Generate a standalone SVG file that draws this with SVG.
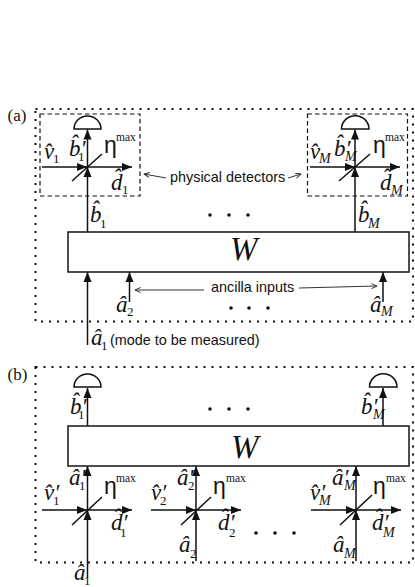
<svg xmlns="http://www.w3.org/2000/svg" width="415" height="587" viewBox="0 0 415 587">
<style>
text{fill:#111}
.m{font:italic 23px "Liberation Serif",serif}
.s{font:13px "Liberation Serif",serif}
.si{font:italic 14px "Liberation Serif",serif}
.e{font:23px "Liberation Sans",sans-serif}
.x{font:11.500px "Liberation Serif",serif}
.l{font:17px "Liberation Serif",serif}
.t{font:14.400px "Liberation Sans",sans-serif}
.w{font:italic 33px "Liberation Serif",serif}
.dot{fill:none;stroke:#111;stroke-width:2;stroke-dasharray:2 6}
.dash{fill:none;stroke:#111;stroke-width:1.200;stroke-dasharray:4.500 3}
.box{fill:#fff;stroke:#222;stroke-width:1.600}
.det{fill:#fff;stroke:#111;stroke-width:1.500}
.c{stroke:#111;stroke-width:1.500;fill:none}
.a{stroke:#111;stroke-width:1.500;fill:none;marker-end:url(#h)}
.n{stroke:#333;stroke-width:1;fill:none;marker-end:url(#o)}
</style>
<defs>
<marker id="h" markerUnits="userSpaceOnUse" markerWidth="10" markerHeight="10" refX="10" refY="5" orient="auto"><path d="M0 1L10 5L0 9z" fill="#111"/></marker>
<marker id="o" markerUnits="userSpaceOnUse" markerWidth="7" markerHeight="6" refX="6.500" refY="3" orient="auto"><path d="M1 .5L6.500 3L1 5.500" fill="none" stroke="#333"/></marker>
</defs>
<g id="frames">
<rect class="dot" x="35.500" y="109" width="377.500" height="212.500"/>
<rect class="dot" x="35.500" y="367" width="377.500" height="195.500"/>
<text class="l" x="7.500" y="121">(a)</text>
<text class="l" x="7.500" y="380">(b)</text>
</g>
<g id="connectors">
<path class="a" d="M87.500 232V167"/><path class="a" d="M87.500 167V129.500"/>
<path class="a" d="M42 167H87"/><path class="a" d="M87 167H132"/><path class="c" d="M72 181L102 154"/>
<path class="a" d="M355 232V167"/><path class="a" d="M355 167V129.500"/>
<path class="a" d="M310 167H355"/><path class="a" d="M355 167H400"/><path class="c" d="M339 181L370 154"/>
<path class="a" d="M87.500 345V272"/><path class="a" d="M129.500 302V272"/><path class="a" d="M383 302V272"/>
<path class="n" d="M166 178L144 174"/><path class="n" d="M288 178L301 174"/>
<path class="n" d="M204 290L135 290"/><path class="n" d="M299 288L377 286"/>
<path class="a" d="M87.500 426V388"/><path class="a" d="M383 426V388"/>
<path class="a" d="M87.500 578V510"/><path class="a" d="M87.500 510V466"/>
<path class="a" d="M42 510H87"/><path class="a" d="M87 510H132"/><path class="c" d="M72 525L102 497"/>
<path class="a" d="M196 561V510"/><path class="a" d="M196 510V466"/>
<path class="a" d="M151 510H196"/><path class="a" d="M196 510H241"/><path class="c" d="M181 525L211 497"/>
<path class="a" d="M356 561V510"/><path class="a" d="M356 510V466"/>
<path class="a" d="M311 510H356"/><path class="a" d="M356 510H401"/><path class="c" d="M340 525L372 495"/>
</g>
<g id="detector-a1">
<rect class="dash" x="40" y="114" width="100" height="82"/>
<path class="det" d="M74 129A13.500 13 0 0 1 101 129Z"/>
<text class="m" x="69" y="156">b̂′<tspan class="s" x="78" y="161">1</tspan></text>
<text class="m" x="44" y="159">v̂<tspan class="s" x="53" y="163">1</tspan></text>
<text class="e" x="104" y="153">η</text><text class="x" x="116" y="141">max</text>
<text class="m" x="111" y="190">d̂<tspan class="s" x="122" y="194">1</tspan></text>
</g>
<g id="detector-aM">
<rect class="dash" x="307.500" y="114" width="100" height="82"/>
<path class="det" d="M341.500 129A13.500 13 0 0 1 369 129Z"/>
<text class="m" x="334" y="156">b̂′<tspan class="si" x="345" y="161">M</tspan></text>
<text class="m" x="310" y="159">v̂<tspan class="si" x="319" y="163">M</tspan></text>
<text class="e" x="373" y="153">η</text><text class="x" x="385" y="141">max</text>
<text class="m" x="380" y="190">d̂<tspan class="si" x="391" y="195">M</tspan></text>
</g>
<g id="W-a">
<rect class="box" x="68" y="232" width="341" height="40"/>
<text class="w" x="230" y="260">W</text>
</g>
<g id="labels-a">
<text class="m" x="90" y="222">b̂<tspan class="s" x="100" y="228">1</tspan></text>
<text class="m" x="358" y="222">b̂<tspan class="si" x="368" y="228">M</tspan></text>
<text class="t" x="170" y="182">physical detectors</text>
<text class="t" x="211" y="292">ancilla inputs</text>
<text class="m" x="116" y="312">â<tspan class="s" x="127" y="316">2</tspan></text>
<text class="m" x="370" y="312">â<tspan class="si" x="381" y="316">M</tspan></text>
<text class="m" x="91" y="345">â<tspan class="s" x="101" y="350">1</tspan></text>
<text class="t" x="110" y="345">(mode to be measured)</text>
<g fill="#111"><circle cx="210" cy="215" r="1.800"/><circle cx="229" cy="215" r="1.800"/><circle cx="248" cy="215" r="1.800"/><circle cx="231" cy="308" r="1.800"/><circle cx="249" cy="308" r="1.800"/><circle cx="268" cy="308" r="1.800"/></g>
</g>
<g id="detector-b1">
<path class="det" d="M74 387A13.500 13 0 0 1 101 387Z"/>
<text class="m" x="70" y="414">b̂′<tspan class="s" x="78" y="419">1</tspan></text>
</g>
<g id="detector-bM">
<path class="det" d="M369.500 387A13.500 13 0 0 1 397 387Z"/>
<text class="m" x="361" y="414">b̂′<tspan class="si" x="373" y="419">M</tspan></text>
</g>
<g id="W-b">
<rect class="box" x="68" y="426" width="341" height="40"/>
<text class="w" x="231" y="458">W</text>
</g>
<g id="labels-b">
<g fill="#111"><circle cx="210" cy="409" r="1.800"/><circle cx="229" cy="409" r="1.800"/><circle cx="248" cy="409" r="1.800"/><circle cx="256" cy="533" r="1.800"/><circle cx="275" cy="533" r="1.800"/><circle cx="294" cy="533" r="1.800"/></g>
<text class="m" x="69" y="485">â′<tspan class="s" x="79" y="490">1</tspan></text>
<text class="m" x="44" y="500">v̂′<tspan class="s" x="53" y="505">1</tspan></text>
<text class="e" x="104" y="494">η</text><text class="x" x="116" y="482">max</text>
<text class="m" x="111" y="530">d̂′<tspan class="s" x="120" y="537">1</tspan></text>
<text class="m" x="74" y="580">â<tspan class="s" x="84" y="585">1</tspan></text>
<text class="m" x="177" y="485">â′<tspan class="s" x="188" y="490">2</tspan></text>
<text class="m" x="151" y="500">v̂′<tspan class="s" x="160" y="505">2</tspan></text>
<text class="e" x="213" y="494">η</text><text class="x" x="226" y="482">max</text>
<text class="m" x="218" y="530">d̂′<tspan class="s" x="229" y="537">2</tspan></text>
<text class="m" x="179" y="552">â<tspan class="s" x="190" y="558">2</tspan></text>
<text class="m" x="332" y="485">â′<tspan class="si" x="344" y="490">M</tspan></text>
<text class="m" x="310" y="500">v̂′<tspan class="si" x="319" y="505">M</tspan></text>
<text class="e" x="373" y="494">η</text><text class="x" x="386" y="482">max</text>
<text class="m" x="372" y="530">d̂′<tspan class="si" x="383" y="537">M</tspan></text>
<text class="m" x="333" y="552">â<tspan class="si" x="344" y="558">M</tspan></text>
</g>
</svg>
